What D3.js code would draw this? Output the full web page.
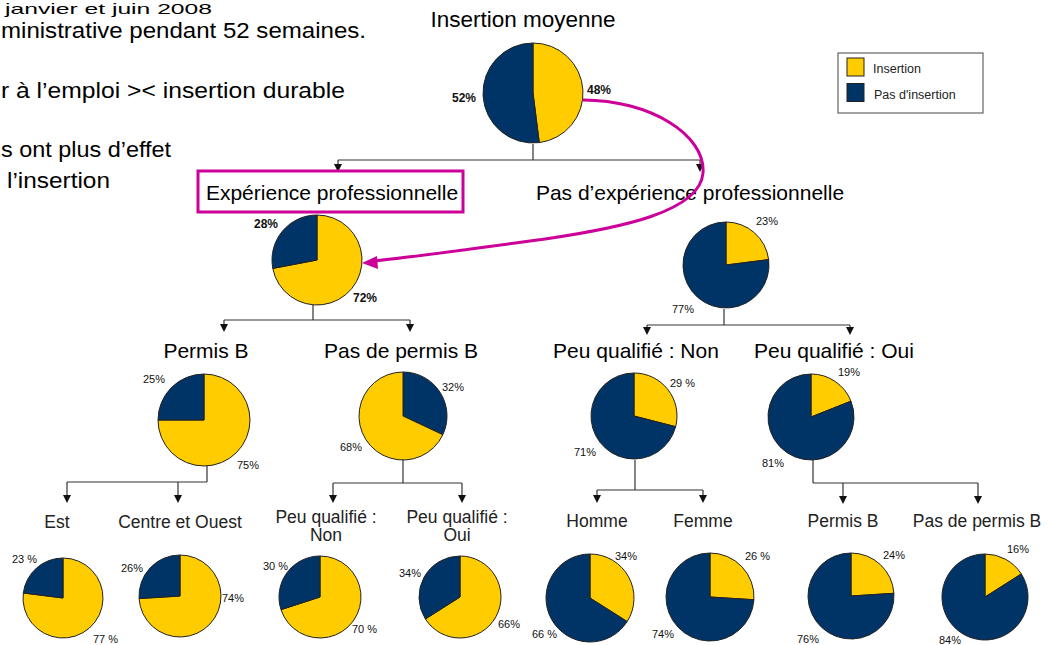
<!DOCTYPE html>
<html><head><meta charset="utf-8">
<script src="https://cdn.jsdelivr.net/npm/d3@7/dist/d3.min.js"></script>
<style>
html,body{margin:0;padding:0;background:#fff;overflow:hidden}
svg{display:block;font-family:"Liberation Sans",Arial,sans-serif}
</style></head><body>
<svg id="c" width="1052" height="645"></svg>
<script>
// ---- data ----
const categories = ["Insertion", "Pas d'insertion"];
const pieNames = ["Insertion moyenne","Expérience professionnelle","Pas d’expérience professionnelle",
  "Permis B","Pas de permis B","Peu qualifié : Non","Peu qualifié : Oui",
  "Est","Centre et Ouest","Peu qualifié :\nNon","Peu qualifié :\nOui","Homme","Femme","Permis B","Pas de permis B"];
const insertion    = [48,72,23,75,68,29,19,77,74,70,66,34,26,24,16];
const pasInsertion = [52,28,77,25,32,71,81,23,26,30,34,66,74,76,84];
const labelInsertion = ["48%","72%","23%","75%","68%","29 %","19%","77 %","74%","70 %","66%","34%","26 %","24%","16%"];
const labelPas       = ["52%","28%","77%","25%","32%","71%","81%","23 %","26%","30 %","34%","66 %","74%","76%","84%"];
const introLines = ["janvier et juin 2008","ministrative pendant 52 semaines.",
  "r à l’emploi >< insertion durable","s ont plus d’effet","l’insertion"];

// ---- layout (positions / styles) ----
const pieLayout = [
  {cx:533,cy:93,r:50, lvl:0, ty:27, lp:[[587,94],[452,102]], bold:true},
  {cx:317,cy:260,r:45, lvl:1, tx:332, ty:200, lp:[[353,302],[254,228]], bold:true},
  {cx:726,cy:265,r:43, lvl:1, tx:690, ty:200, lp:[[756,225],[672,313]]},
  {cx:204,cy:420,r:46, lvl:2, tx:206, ty:358, lp:[[237,469],[143,383]]},
  {cx:403,cy:416,r:44, lvl:2, tx:401, ty:358, lp:[[340,451],[442,391]], navyFirst:true},
  {cx:634,cy:416,r:43, lvl:2, tx:636, ty:358, lp:[[670,387],[574,456]]},
  {cx:811,cy:417,r:43, lvl:2, tx:834, ty:358, lp:[[838,376],[762,467]]},
  {cx:63,cy:598,r:40, lvl:3, tx:57, ty:528, lp:[[93,643],[12,563]]},
  {cx:180,cy:596,r:41, lvl:3, tx:180, ty:528, lp:[[222,602],[121,572]]},
  {cx:320,cy:597,r:41, lvl:3, tx:326, ty:523, lp:[[352,633],[263,570]]},
  {cx:460,cy:597,r:41, lvl:3, tx:457, ty:523, lp:[[498,628],[399,577]]},
  {cx:590,cy:598,r:44, lvl:3, tx:597, ty:527, lp:[[615,560],[532,638]]},
  {cx:710,cy:597,r:44, lvl:3, tx:703, ty:527, lp:[[745,560],[652,638]]},
  {cx:851,cy:596,r:43, lvl:3, tx:843, ty:527, lp:[[883,559],[797,643]]},
  {cx:985,cy:597,r:43, lvl:3, tx:977, ty:527, lp:[[1007,553],[939,644]]}
];
const connectors = [
  {sx:533, sy:144, by:160, x0:338, x1:700, arrows:[338,700], tip:172},
  {sx:313, sy:305, by:320, x0:224, x1:410, arrows:[224,410], tip:332},
  {sx:724, sy:309, by:325, x0:647, x1:850, arrows:[647,850], tip:335},
  {sx:207, sy:466, by:482, x0:67,  x1:207, arrows:[67,178],  tip:503},
  {sx:403, sy:460, by:483, x0:333, x1:462, arrows:[333,462], tip:503},
  {sx:635, sy:460, by:490, x0:597, x1:703, arrows:[597,703], tip:503},
  {sx:813, sy:460, by:483, x0:813, x1:978, arrows:[843,978], tip:504}
];
const introPos = [[5,14,207,15],[1,38,365,22.5],[1,98,344,22.5],[1,157,170,22.5],[7,188,103,22.5]];
const YELLOW = "#FFCC00", NAVY = "#003366", MAGENTA = "#CC0099";

const svg = d3.select("#c");
const color = d3.scaleOrdinal().domain(categories).range([YELLOW, NAVY]);
const pie = d3.pie().sort(null).value(d => d.v);

// intro text
svg.append("g").selectAll("text").data(introLines).join("text")
  .attr("x",(d,i)=>introPos[i][0]).attr("y",(d,i)=>introPos[i][1])
  .attr("textLength",(d,i)=>introPos[i][2]).attr("lengthAdjust","spacingAndGlyphs")
  .attr("font-size",(d,i)=>introPos[i][3]).attr("fill","#000").text(d=>d);

// connectors
const cg = svg.append("g").attr("stroke","#333").attr("stroke-width",1.2).attr("fill","none");
connectors.forEach(c=>{
  cg.append("line").attr("x1",c.sx).attr("x2",c.sx).attr("y1",c.sy).attr("y2",c.by);
  cg.append("line").attr("x1",c.x0).attr("x2",c.x1).attr("y1",c.by).attr("y2",c.by);
  c.arrows.forEach(ax=>{
    cg.append("line").attr("x1",ax).attr("x2",ax).attr("y1",c.by).attr("y2",c.tip-7);
    svg.append("path").attr("d",`M${ax-4},${c.tip-8}L${ax+4},${c.tip-8}L${ax},${c.tip}Z`).attr("fill","#111");
  });
});

// pies
pieNames.forEach((name,i)=>{
  const L = pieLayout[i];
  let d = [{k:categories[0],v:insertion[i]},{k:categories[1],v:pasInsertion[i]}];
  if (L.navyFirst) d = d.slice().reverse();
  const arc = d3.arc().innerRadius(0).outerRadius(L.r);
  const g = svg.append("g").attr("transform",`translate(${L.cx},${L.cy})`);
  g.selectAll("path").data(pie(d)).join("path")
    .attr("d",arc).attr("fill",a=>color(a.data.k)).attr("stroke","#222").attr("stroke-width",1);
  const labs = [labelInsertion[i], labelPas[i]];
  labs.forEach((t,j)=>{
    svg.append("text").attr("x",L.lp[j][0]).attr("y",L.lp[j][1])
      .attr("font-size",L.bold?12:11).attr("font-weight",L.bold?"bold":"normal")
      .attr("fill","#111").text(t);
  });
  if (L.lvl===0) {
    svg.append("text").attr("x",523).attr("y",L.ty).attr("text-anchor","middle")
      .attr("font-size",22.5).attr("fill","#000").text(name);
  } else if (L.lvl===1 || L.lvl===2) {
    svg.append("text").attr("x",L.tx).attr("y",L.ty).attr("text-anchor","middle")
      .attr("font-size",21).attr("fill","#000").text(name);
  } else {
    name.split("\n").forEach((ln,k)=>{
      svg.append("text").attr("x",L.tx).attr("y",L.ty+k*18).attr("text-anchor","middle")
        .attr("font-size",17.5).attr("fill","#222").text(ln);
    });
  }
});

// magenta box around Expérience professionnelle
svg.append("rect").attr("x",198).attr("y",171).attr("width",265).attr("height",41)
  .attr("fill","none").attr("stroke",MAGENTA).attr("stroke-width",3);

// magenta curved arrow
svg.append("path")
  .attr("d","M583,100 C650,100 706,135 703,173 C700,212 620,228 545,239 C480,248 430,255 374,261")
  .attr("fill","none").attr("stroke",MAGENTA).attr("stroke-width",3);
svg.append("path").attr("d","M362,263 L377,256 L378,269 Z").attr("fill",MAGENTA);

// legend
const lg = svg.append("g");
lg.append("rect").attr("x",838).attr("y",53).attr("width",145).attr("height",60)
  .attr("fill","#fff").attr("stroke","#444").attr("stroke-width",1);
categories.forEach((c,i)=>{
  lg.append("rect").attr("x",847).attr("y",58+i*25.5).attr("width",17).attr("height",18)
    .attr("fill",color(c)).attr("stroke","#222");
  lg.append("text").attr("x",873+i).attr("y",73+i*26).attr("font-size",12.5).attr("fill","#222").text(c);
});
</script>
</body></html>
